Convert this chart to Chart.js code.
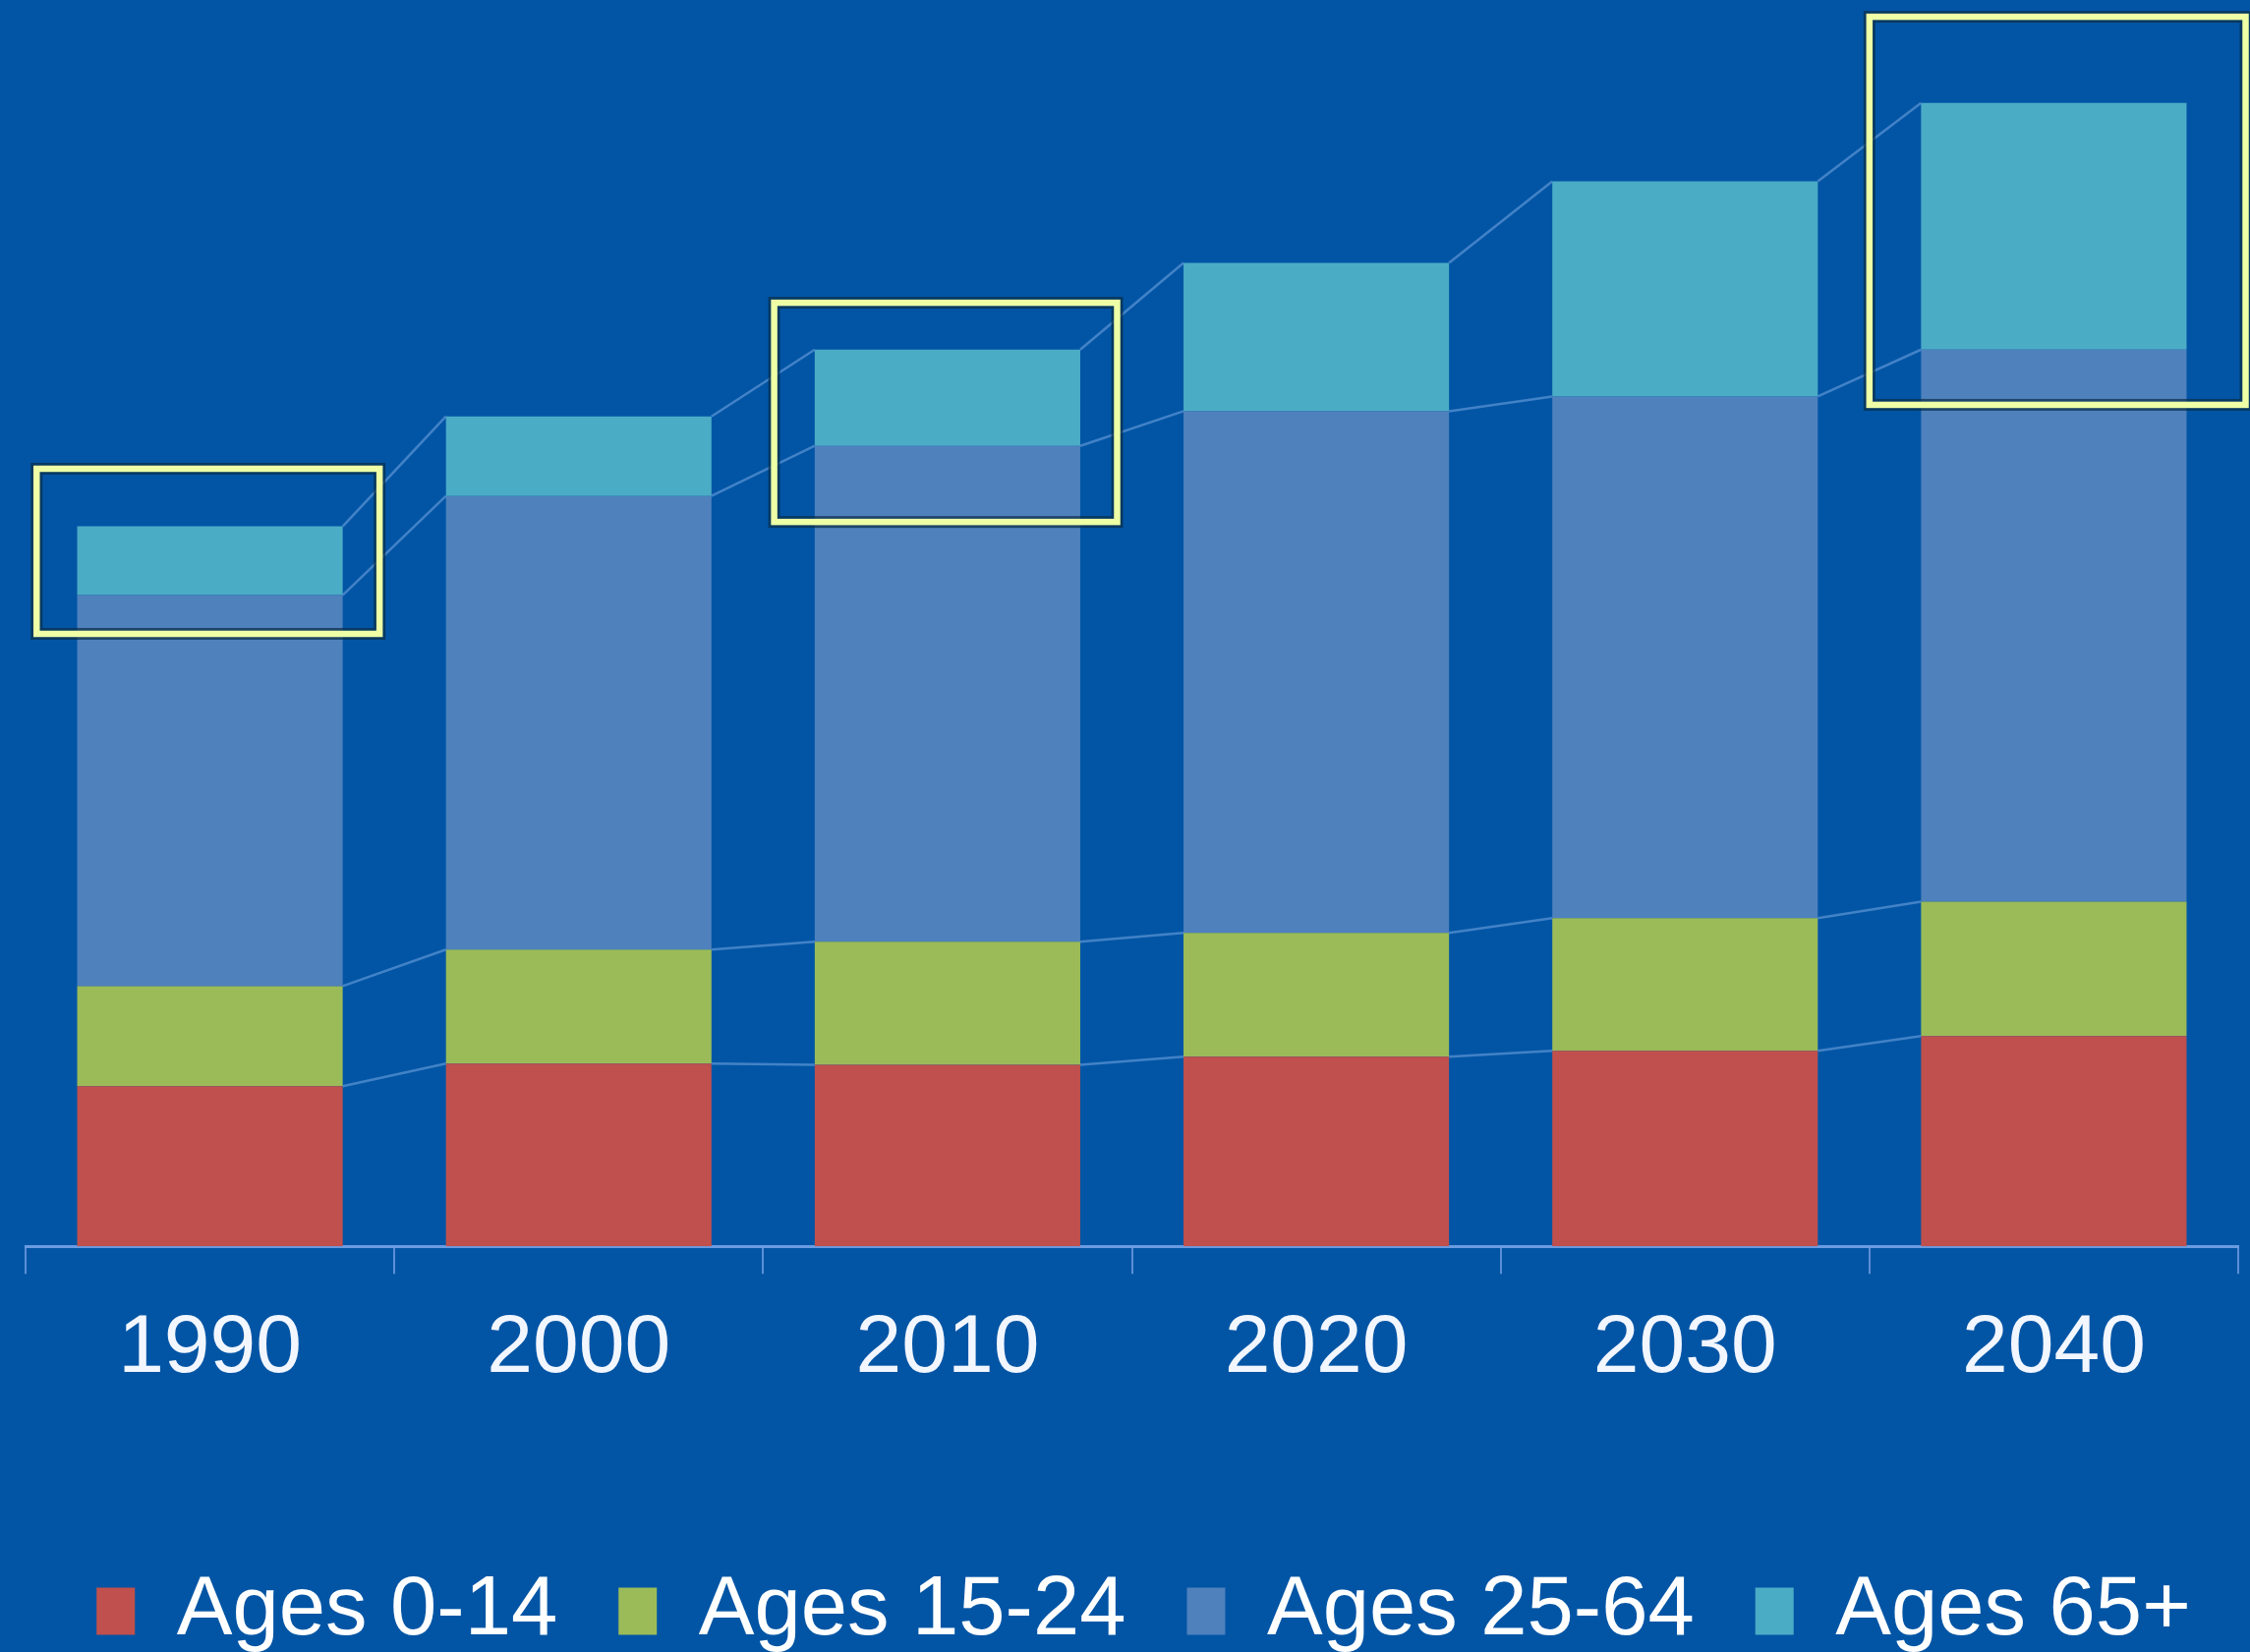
<!DOCTYPE html>
<html>
<head>
<meta charset="utf-8">
<script src="https://cdn.jsdelivr.net/npm/chart.js@4.4.1/dist/chart.umd.min.js"></script>
<style>
    html, body { margin: 0; padding: 0; background: #0255a5; overflow: hidden; }
    canvas { display: block; }
</style>
</head>
<body>
<canvas id="population" width="2289" height="1692"></canvas>
<script>
const years = ['1990', '2000', '2010', '2020', '2030', '2040']
const seriesNames = ['Ages 0-14', 'Ages 15-24', 'Ages 25-64', 'Ages 65+']

// population, millions
const ages0to14 = [55.4, 63.2, 62.8, 65.6, 67.6, 72.7]
const ages15to24 = [34.6, 39.4, 42.5, 42.8, 45.9, 46.5]
const ages25to64 = [135.2, 156.9, 171.5, 180.4, 180.4, 190.9]
const ages65plus = [23.8, 27.5, 33.3, 51.3, 74.4, 85.3]

// highlighted regions: x in category units, y in millions
const highlightX = [[-0.47, 0.46], [1.53, 2.46], [4.5, 5.52]]
const highlightY = [[211.8, 268.9], [250.5, 326.3], [291.0, 425.2]]

const colors = ['#c0504d', '#9bbb59', '#4f81bd', '#4bacc6']
const fontFamily = '"Liberation Sans", Arial, sans-serif'

const backgroundPlugin = {
    id: 'background',
    beforeDraw(chart) {
        const ctx = chart.ctx
        ctx.save()
        ctx.fillStyle = '#0255a5'
        ctx.fillRect(0, 0, chart.width, chart.height)
        ctx.restore()
    }
}

// thin lines joining the top of each segment to the same segment in the next bar
const seriesLinesPlugin = {
    id: 'seriesLines',
    afterDatasetsDraw(chart) {
        const ctx = chart.ctx
        ctx.save()
        ctx.strokeStyle = 'rgba(120, 168, 228, 0.55)'
        ctx.lineWidth = 2.5
        chart.data.datasets.forEach(function(ds, d) {
            const bars = chart.getDatasetMeta(d).data
            for (let i = 0; i < bars.length - 1; i++) {
                const a = bars[i]
                const b = bars[i + 1]
                ctx.beginPath()
                ctx.moveTo(a.x + a.width / 2, a.y)
                ctx.lineTo(b.x - b.width / 2, b.y)
                ctx.stroke()
            }
        })
        ctx.restore()
    }
}

const highlightPlugin = {
    id: 'highlight',
    afterDatasetsDraw(chart) {
        const ctx = chart.ctx
        const xs = chart.scales.x
        const ys = chart.scales.y
        ctx.save()
        highlightX.forEach(function(range, i) {
            const left = xs.getPixelForValue(range[0])
            const right = xs.getPixelForValue(range[1])
            const top = ys.getPixelForValue(highlightY[i][1])
            const bottom = ys.getPixelForValue(highlightY[i][0])
            ctx.lineWidth = 12
            ctx.strokeStyle = 'rgba(10, 45, 70, 0.7)'
            ctx.strokeRect(left, top, right - left, bottom - top)
            ctx.lineWidth = 6.5
            ctx.strokeStyle = '#eeffa6'
            ctx.strokeRect(left, top, right - left, bottom - top)
        })
        ctx.restore()
    }
}

const seriesData = [ages0to14, ages15to24, ages25to64, ages65plus]

// empty side axes only reserve a little room so the legend can use the full width
const spacer = (width) => ({
    display: true,
    grid: { display: false },
    border: { display: false },
    ticks: { display: false },
    afterFit(scale) {
        scale.width = width
    }
})

const ctx = document.getElementById('population').getContext('2d')

const myChart = new Chart(ctx, {
    type: 'bar',
    data: {
        labels: years,
        datasets: seriesNames.map((name, i) => ({
            label: name,
            data: seriesData[i],
            backgroundColor: colors[i],
            borderWidth: 0,
            categoryPercentage: 1,
            barPercentage: 0.72
        }))
    },
    options: {
        responsive: false,
        animation: false,
        devicePixelRatio: 1,
        layout: {
            padding: { left: 18, right: -20, top: 0, bottom: 0 }
        },
        scales: {
            x: {
                stacked: true,
                grid: {
                    display: true,
                    drawOnChartArea: false,
                    drawTicks: true,
                    tickLength: 28,
                    color: '#5a8fd6',
                    lineWidth: 2
                },
                border: {
                    display: true,
                    color: '#6b9be0',
                    width: 3
                },
                ticks: {
                    color: '#f2f6ff',
                    padding: 26,
                    font: { family: fontFamily, size: 84 }
                },
                afterFit(scale) {
                    scale.height += 86
                }
            },
            y: {
                ...spacer(8),
                stacked: true,
                position: 'left',
                min: 0,
                max: 431
            },
            yRight: {
                ...spacer(32),
                axis: 'y',
                position: 'right'
            }
        },
        plugins: {
            legend: {
                display: true,
                position: 'bottom',
                labels: {
                    color: '#ffffff',
                    boxWidth: 39,
                    boxHeight: 48,
                    padding: 62,
                    font: { family: fontFamily, size: 85 }
                }
            },
            tooltip: { enabled: false }
        }
    },
    plugins: [backgroundPlugin, seriesLinesPlugin, highlightPlugin]
})
</script>
</body>
</html>
